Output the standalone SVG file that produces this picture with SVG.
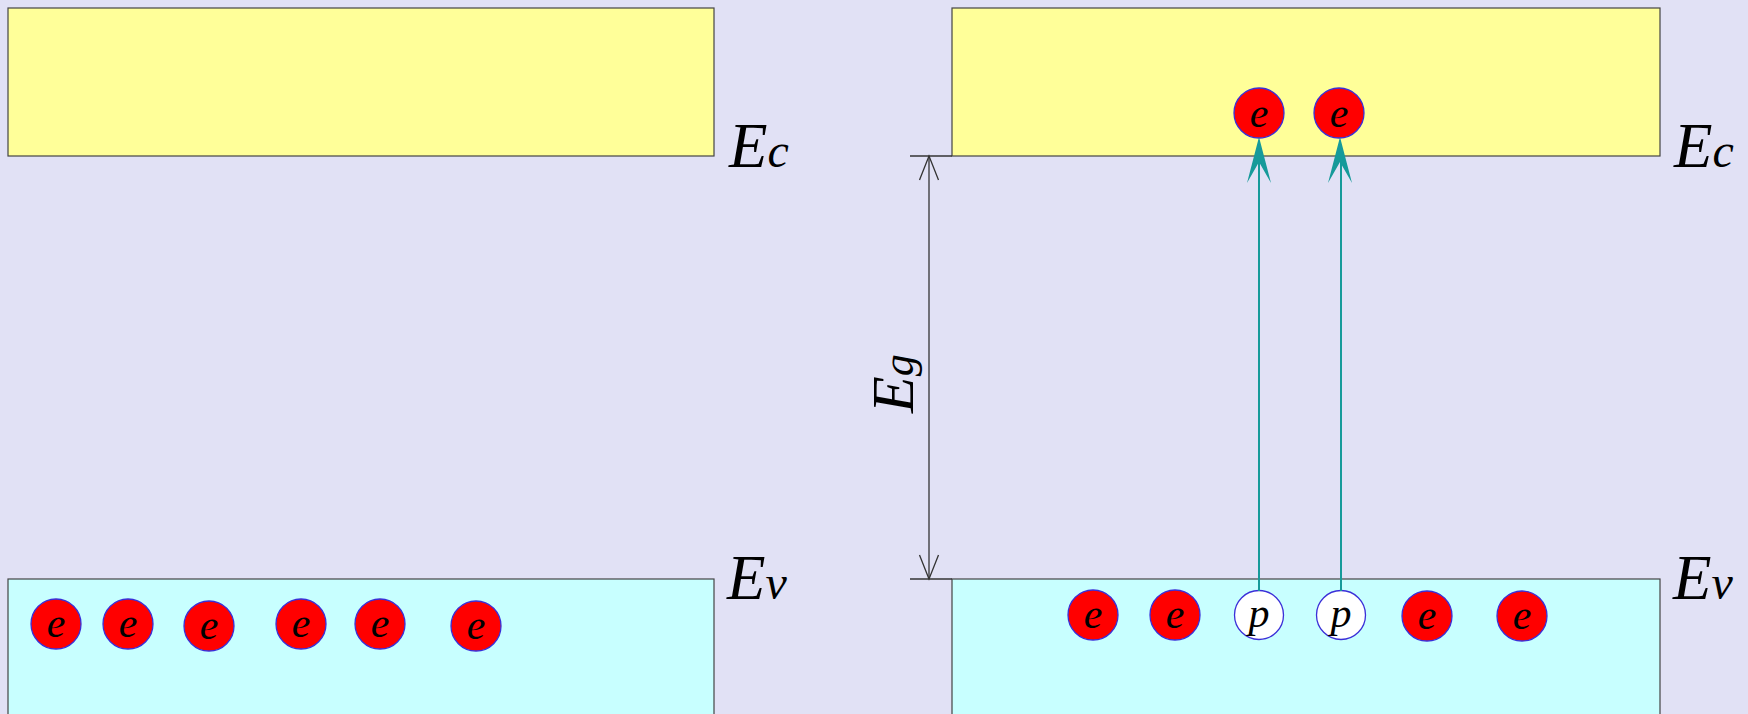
<svg xmlns="http://www.w3.org/2000/svg" width="1748" height="714" viewBox="0 0 1748 714">
  <defs>
    <style>
      .cb { fill: #ffff99; stroke: #444444; stroke-width: 1.2; }
      .vb { fill: #c8ffff; stroke: #444444; stroke-width: 1.2; }
      .lbl { font-family: "Liberation Serif", "Times New Roman", serif; font-style: italic; fill: #000000; }
      .el { fill: #ff0000; stroke: #3a2fd8; stroke-width: 1.3; }
      .ho { fill: #ffffff; stroke: #3a2fd8; stroke-width: 1.3; }
      .pt { font-family: "Liberation Serif", "Times New Roman", serif; font-style: italic; font-size: 42px; fill: #000000; text-anchor: middle; }
      .dim { fill: none; stroke: #333333; stroke-width: 1.3; }
      .tr { fill: none; stroke: #169a9a; stroke-width: 2; }
      .ah { fill: #169a9a; stroke: none; }
    </style>
  </defs>
  <rect x="0" y="0" width="1748" height="714" fill="#e1e1f5"/>

  <!-- Left diagram -->
  <g id="left-conduction-band">
    <rect class="cb" x="8" y="8" width="706" height="148"/>
  </g>
  <g id="left-valence-band">
    <rect class="vb" x="8" y="579" width="706" height="150"/>
  </g>
  <g id="left-Ec"><text class="lbl" x="729" y="167" font-size="63">E<tspan font-size="48">c</tspan></text></g>
  <g id="left-Ev"><text class="lbl" x="727" y="599" font-size="63">E<tspan font-size="48">v</tspan></text></g>

  <g id="left-e1"><circle class="el" cx="56" cy="624" r="25"/><text class="pt" x="56" y="637">e</text></g>
  <g id="left-e2"><circle class="el" cx="128" cy="624" r="25"/><text class="pt" x="128" y="637">e</text></g>
  <g id="left-e3"><circle class="el" cx="209" cy="626" r="25"/><text class="pt" x="209" y="639">e</text></g>
  <g id="left-e4"><circle class="el" cx="301" cy="624" r="25"/><text class="pt" x="301" y="637">e</text></g>
  <g id="left-e5"><circle class="el" cx="380" cy="624" r="25"/><text class="pt" x="380" y="637">e</text></g>
  <g id="left-e6"><circle class="el" cx="476" cy="626" r="25"/><text class="pt" x="476" y="639">e</text></g>

  <!-- Right diagram -->
  <g id="right-conduction-band">
    <rect class="cb" x="952" y="8" width="708" height="148"/>
  </g>
  <g id="right-valence-band">
    <rect class="vb" x="952" y="579" width="708" height="150"/>
  </g>
  <g id="right-Ec"><text class="lbl" x="1674" y="167" font-size="63">E<tspan font-size="48">c</tspan></text></g>
  <g id="right-Ev"><text class="lbl" x="1673" y="599" font-size="63">E<tspan font-size="48">v</tspan></text></g>

  <g id="Eg-label"><text class="lbl" transform="translate(913,413) rotate(-90)" x="0" y="0" font-size="60">E<tspan font-size="44">g</tspan></text></g>

  <g id="right-top-e1"><circle class="el" cx="1259" cy="113" r="25"/><text class="pt" x="1259" y="127">e</text></g>
  <g id="right-top-e2"><circle class="el" cx="1339" cy="113" r="25"/><text class="pt" x="1339" y="127">e</text></g>

  <g id="right-e1"><circle class="el" cx="1093" cy="615" r="25"/><text class="pt" x="1093" y="628">e</text></g>
  <g id="right-e2"><circle class="el" cx="1175" cy="615" r="25"/><text class="pt" x="1175" y="628">e</text></g>
  <g id="right-p1"><circle class="ho" cx="1259" cy="615" r="24.5"/><text class="pt" x="1259" y="627">p</text></g>
  <g id="right-p2"><circle class="ho" cx="1341" cy="615" r="24.5"/><text class="pt" x="1341" y="627">p</text></g>
  <g id="right-e3"><circle class="el" cx="1427" cy="616" r="25"/><text class="pt" x="1427" y="629">e</text></g>
  <g id="right-e4"><circle class="el" cx="1522" cy="616" r="25"/><text class="pt" x="1522" y="629">e</text></g>

  <!-- Connectors -->
  <g id="connectors">
    <line class="dim" x1="910" y1="156" x2="952" y2="156"/>
    <line class="dim" x1="910" y1="579" x2="952" y2="579"/>
    <line class="dim" x1="929" y1="156" x2="929" y2="579"/>
    <polyline class="dim" points="919.5,180 929,156 938.5,180"/>
    <polyline class="dim" points="919.5,555 929,579 938.5,555"/>

    <line class="tr" x1="1259" y1="591" x2="1259" y2="150"/>
    <polygon class="ah" points="1259,137 1271,183 1259,162 1247,183"/>
    <line class="tr" x1="1341" y1="591" x2="1341" y2="150"/>
    <polygon class="ah" points="1340,137 1352,183 1340,162 1328,183"/>
  </g>
</svg>
